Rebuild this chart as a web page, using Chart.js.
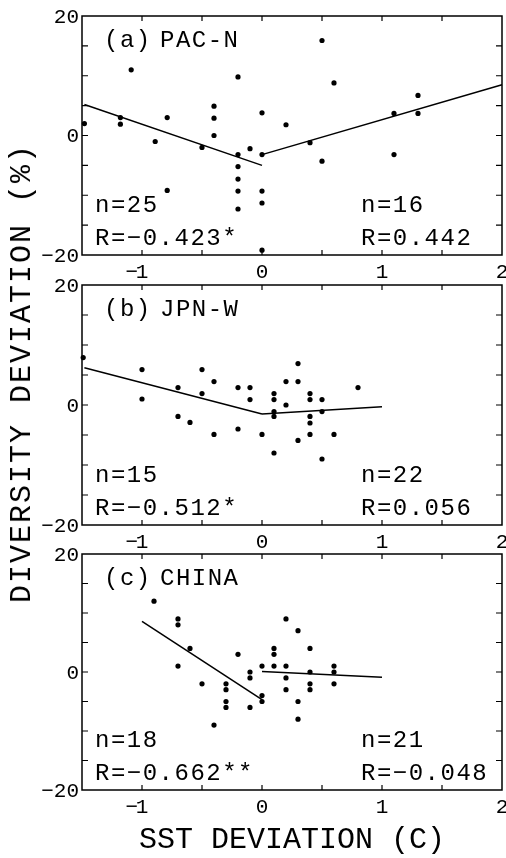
<!DOCTYPE html>
<html>
<head>
<meta charset="utf-8">
<script src="https://cdn.jsdelivr.net/npm/chart.js@4.4.1/dist/chart.umd.min.js"></script>
<style>
  body { margin: 0; background: #fff; }
  #wrap { position: relative; width: 506px; height: 858px; overflow: hidden; background: #fff; }
  canvas { position: absolute; left: 0; top: 0; }
  .title { position: absolute; font-family: 'Liberation Mono', monospace; font-size: 30px; line-height: 1; color: #000; white-space: pre; }
  #xTitle { left: 292px; top: 840px; transform: translate(-50%, -50%); }
  #yTitle { left: 22px; top: 373px; letter-spacing: 2px; transform: translate(-50%, -50%) rotate(-90deg); }
</style>
</head>
<body>
<div id="wrap">
  <canvas id="panelA" width="506" height="858"></canvas>
  <canvas id="panelB" width="506" height="858"></canvas>
  <canvas id="panelC" width="506" height="858"></canvas>
  <div class="title" id="xTitle">SST DEVIATION (C)</div>
  <div class="title" id="yTitle">DIVERSITY DEVIATION (%)</div>
</div>
<script>
/* ============================
   Ejes
============================ */
const X_MIN = -1.5
const X_MAX = 2
const Y_MIN = -20
const Y_MAX = 20
const X_TICK_LABELS = [-1, 0, 1, 2]
const Y_TICK_LABELS = [20, 0, -20]
const X_MINOR = [-1, -0.5, 0, 0.5, 1, 1.5]
const Y_MINOR = [-15, -10, -5, 0, 5, 10, 15]

/* ============================
   (a) PAC-N
============================ */
const PAC_X = [-1.48, -1.18, -1.18, -1.09, -0.89, -0.79, -0.79, -0.5, -0.4, -0.4, -0.4, -0.2, -0.2, -0.2, -0.2, -0.2, -0.2, -0.1, 0, 0, 0, 0, 0, 0.2, 0.4, 0.5, 0.5, 0.6, 1.1, 1.1, 1.3, 1.3]
const PAC_Y = [2, 3, 1.9, 11, -1, 3, -9.2, -2, 4.9, 2.9, 0, 9.8, -3.2, -5.2, -7.3, -9.3, -12.3, -2.2, 3.8, -3.2, -9.3, -11.3, -19.2, 1.8, -1.2, 15.9, -4.3, 8.8, 3.7, -3.2, 6.7, 3.7]
const PAC_FIT_L_X = [-1.48, 0]
const PAC_FIT_L_Y = [5.2, -5.0]
const PAC_FIT_R_X = [0, 2]
const PAC_FIT_R_Y = [-3.2, 8.5]

/* ============================
   (b) JPN-W
============================ */
const JPN_X = [-1.49, -1, -1, -0.7, -0.7, -0.6, -0.5, -0.5, -0.4, -0.4, -0.2, -0.2, -0.1, -0.1, 0, 0.1, 0.1, 0.1, 0.1, 0.1, 0.2, 0.2, 0.3, 0.3, 0.3, 0.4, 0.4, 0.4, 0.4, 0.4, 0.5, 0.5, 0.5, 0.6, 0.8]
const JPN_Y = [7.9, 5.9, 1, 2.9, -1.9, -2.9, 5.9, 1.9, 3.9, -4.9, 2.9, -4, 2.9, 0.9, -4.9, 1.9, 0.9, -1.1, -1.9, -8, 3.9, 0, 6.9, 3.9, -5.9, 1.9, 0.9, -1.9, -3, -4.9, 0.9, -1.1, -9, -4.9, 2.9]
const JPN_FIT_L_X = [-1.48, 0]
const JPN_FIT_L_Y = [6.2, -1.5]
const JPN_FIT_R_X = [0, 1]
const JPN_FIT_R_Y = [-1.5, -0.3]

/* ============================
   (c) CHINA
============================ */
const CHN_X = [-0.9, -0.7, -0.7, -0.7, -0.6, -0.5, -0.4, -0.3, -0.3, -0.3, -0.3, -0.2, -0.1, -0.1, -0.1, 0, 0, 0, 0.1, 0.1, 0.1, 0.2, 0.2, 0.2, 0.2, 0.3, 0.3, 0.3, 0.4, 0.4, 0.4, 0.4, 0.6, 0.6, 0.6]
const CHN_Y = [12, 9, 8, 1, 4, -2, -9, -2, -3, -5, -6, 3, 0, -1, -6, -4, -5, 1, 4, 3, 1, 9, 1, -1, -3, 7, -5, -8, 4, 0, -2, -3, 1, 0, -2]
const CHN_FIT_L_X = [-1, 0]
const CHN_FIT_L_Y = [8.6, -4.7]
const CHN_FIT_R_X = [0, 1]
const CHN_FIT_R_Y = [0.1, -0.9]

/* ============================
   Textos de cada panel
============================ */
const PANEL_TAGS = ['(a)', '(b)', '(c)']
const PANEL_NAMES = ['PAC-N', 'JPN-W', 'CHINA']
const N_LEFT = [25, 15, 18]
const R_LEFT = ['−0.423*', '−0.512*', '−0.662**']
const N_RIGHT = [16, 22, 21]
const R_RIGHT = ['0.442', '0.056', '−0.048']

const FONT = '"Liberation Mono", monospace'
const fmt = v => (v < 0 ? '−' : '') + Math.abs(v)
const pts = (xs, ys) => xs.map((x, i) => ({ x, y: ys[i] }))

// marco, ticks hacia adentro y textos
const framePlugin = {
    id: 'frame',
    afterDatasetsDraw(chart, args, opts) {
        const { ctx, chartArea: a, scales: { x, y } } = chart
        ctx.save()
        ctx.strokeStyle = '#000'
        ctx.lineWidth = 1.5
        ctx.strokeRect(a.left, a.top, a.right - a.left, a.bottom - a.top)

        ctx.lineWidth = 1.2
        ctx.beginPath()
        X_MINOR.forEach(v => {
            const px = x.getPixelForValue(v)
            ctx.moveTo(px, a.top); ctx.lineTo(px, a.top + 5)
            ctx.moveTo(px, a.bottom); ctx.lineTo(px, a.bottom - 5)
        })
        Y_MINOR.forEach(v => {
            const py = y.getPixelForValue(v)
            ctx.moveTo(a.left, py); ctx.lineTo(a.left + 6, py)
            ctx.moveTo(a.right, py); ctx.lineTo(a.right - 6, py)
        })
        ctx.stroke()

        ctx.fillStyle = '#000'
        ctx.font = `21px ${FONT}`
        ctx.textAlign = 'right'
        ctx.textBaseline = 'middle'
        Y_TICK_LABELS.forEach(v => ctx.fillText(fmt(v), a.left - 3, y.getPixelForValue(v) + 1))

        ctx.textBaseline = 'top'
        X_TICK_LABELS.forEach(v => {
            const px = x.getPixelForValue(v)
            ctx.textAlign = 'center'
            ctx.fillText(String(Math.abs(v)), px, a.bottom + 7)
            if (v < 0) {
                ctx.textAlign = 'right'
                ctx.fillText('−', px - 4, a.bottom + 7)
            }
        })

        ctx.font = `24px ${FONT}`
        ctx.letterSpacing = '1.5px'
        ctx.textAlign = 'left'
        ctx.textBaseline = 'alphabetic'
        ctx.fillText(opts.tag, a.left + 22, a.top + 31)
        ctx.fillText(opts.name, a.left + 78, a.top + 31)
        ctx.fillText(`n=${opts.nL}`, a.left + 13, a.bottom - 43)
        ctx.fillText(`R=${opts.rL}`, a.left + 13, a.bottom - 10)
        ctx.fillText(`n=${opts.nR}`, a.right - 141, a.bottom - 43)
        ctx.fillText(`R=${opts.rR}`, a.right - 141, a.bottom - 10)
        ctx.restore()
    }
}

function makePanel(id, i, pad, xs, ys, fitL, fitR) {
    const lineStyle = { showLine: true, pointRadius: 0, borderColor: '#000', borderWidth: 1.5, clip: false }
    return new Chart(document.getElementById(id), {
        type: 'scatter',
        data: {
            datasets: [
                { data: pts(xs, ys), pointRadius: 2.6, pointBackgroundColor: '#000', pointBorderWidth: 0, clip: false },
                { data: pts(fitL[0], fitL[1]), ...lineStyle },
                { data: pts(fitR[0], fitR[1]), ...lineStyle }
            ]
        },
        options: {
            responsive: false,
            animation: false,
            devicePixelRatio: 1,
            layout: { padding: pad },
            scales: {
                x: { type: 'linear', min: X_MIN, max: X_MAX, display: false },
                y: { type: 'linear', min: Y_MIN, max: Y_MAX, display: false }
            },
            plugins: {
                legend: { display: false },
                tooltip: { enabled: false },
                frame: {
                    tag: PANEL_TAGS[i], name: PANEL_NAMES[i],
                    nL: N_LEFT[i], rL: R_LEFT[i], nR: N_RIGHT[i], rR: R_RIGHT[i]
                }
            }
        },
        plugins: [framePlugin]
    })
}

makePanel('panelA', 0, { left: 82, right: 4, top: 16, bottom: 858 - 255 }, PAC_X, PAC_Y, [PAC_FIT_L_X, PAC_FIT_L_Y], [PAC_FIT_R_X, PAC_FIT_R_Y])
makePanel('panelB', 1, { left: 82, right: 4, top: 285, bottom: 858 - 525 }, JPN_X, JPN_Y, [JPN_FIT_L_X, JPN_FIT_L_Y], [JPN_FIT_R_X, JPN_FIT_R_Y])
makePanel('panelC', 2, { left: 82, right: 4, top: 554, bottom: 858 - 790 }, CHN_X, CHN_Y, [CHN_FIT_L_X, CHN_FIT_L_Y], [CHN_FIT_R_X, CHN_FIT_R_Y])
</script>
</body>
</html>
